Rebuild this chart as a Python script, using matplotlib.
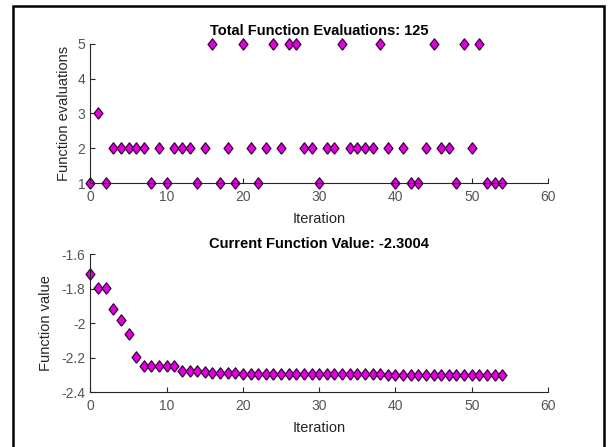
import numpy as np
import matplotlib
matplotlib.use('Agg')
import matplotlib.pyplot as plt
from matplotlib.patches import Rectangle

plt.rcParams['font.family'] = ['Liberation Sans', 'DejaVu Sans']

# per-iteration data
iterations = np.arange(0, 55)
funcEvals = [1, 3, 1, 2, 2, 2, 2, 2, 1, 2,
             1, 2, 2, 2, 1, 2, 5, 1, 2, 1,
             5, 2, 1, 2, 5, 2, 5, 5, 2, 2,
             1, 2, 2, 5, 2, 2, 2, 2, 5, 2,
             1, 2, 1, 1, 2, 5, 2, 2, 1, 5,
             2, 5, 1, 1, 1]
funcValues = [-1.716, -1.798, -1.798, -1.918, -1.985, -2.064, -2.197, -2.251, -2.251, -2.251,
              -2.251, -2.251, -2.278, -2.280, -2.281, -2.283, -2.290, -2.291, -2.292, -2.292,
              -2.293, -2.293, -2.294, -2.294, -2.294, -2.295, -2.295, -2.296, -2.296, -2.296,
              -2.297, -2.297, -2.297, -2.297, -2.298, -2.298, -2.298, -2.298, -2.298, -2.299,
              -2.299, -2.299, -2.2995, -2.2996, -2.2997, -2.2998, -2.2999, -2.3000, -2.3001, -2.3001,
              -2.3002, -2.3002, -2.3003, -2.3003, -2.3004]

diamond = [(0, -1), (0.78, 0), (0, 1), (-0.78, 0), (0, -1)]
mstyle = dict(linestyle='none', marker=diamond, markersize=8.2,
              markerfacecolor='#e000e0', markeredgecolor='#3c003c', markeredgewidth=0.9)
tickColor = '#555555'


def styleAxes(ax):
    for side in ['top', 'right']:
        ax.spines[side].set_visible(False)
    for side in ['left', 'bottom']:
        ax.spines[side].set_color('#262626')
        ax.spines[side].set_linewidth(0.8)
    ax.tick_params(direction='in', length=3.5, width=0.8, colors='#262626',
                   labelcolor=tickColor, labelsize=10)
    ax.tick_params(axis='x', pad=5)
    ax.set_xlim(0, 60)
    ax.set_xticks([0, 10, 20, 30, 40, 50, 60])


fig = plt.figure(figsize=(6.08, 4.47), dpi=100)

ax1 = fig.add_axes([0.1488, 0.5906, 0.7525, 0.3116])
ax1.plot(iterations, funcEvals, clip_on=False, **mstyle)
styleAxes(ax1)
ax1.set_ylim(1, 5)
ax1.set_yticks([1, 2, 3, 4, 5])
ax1.set_title('Total Function Evaluations: %d' % sum(funcEvals),
              fontsize=10.5, fontweight='bold', pad=6)
ax1.set_xlabel('Iteration', fontsize=10.5, color='#262626', labelpad=6)
ax1.set_ylabel('Function evaluations', fontsize=10.5, color='#262626', labelpad=5)

ax2 = fig.add_axes([0.1488, 0.1230, 0.7525, 0.3087])
ax2.plot(iterations, funcValues, clip_on=False, **mstyle)
styleAxes(ax2)
ax2.set_ylim(-2.4, -1.6)
ax2.set_yticks([-2.4, -2.2, -2.0, -1.8, -1.6])
ax2.set_yticklabels(['-2.4', '-2.2', '-2', '-1.8', '-1.6'])
ax2.set_title('Current Function Value: %.4f' % funcValues[-1],
              fontsize=10.5, fontweight='bold', pad=4)
ax2.set_xlabel('Iteration', fontsize=10.5, color='#262626', labelpad=6)
ax2.set_ylabel('Function value', fontsize=10.5, color='#262626', labelpad=6)

# black frame around the figure (open at the bottom edge)
fig.patches.append(Rectangle((12.5 / 608, -0.05), (604 - 12.5) / 608, 0.05 + (447 - 5.5) / 447,
                             transform=fig.transFigure, fill=False,
                             edgecolor='black', linewidth=1.8))

fig.savefig('out.png', dpi=100)
